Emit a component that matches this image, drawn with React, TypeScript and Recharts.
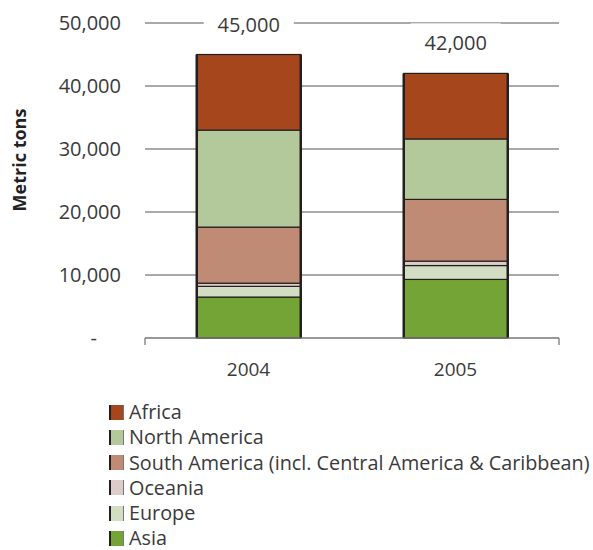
import React from 'react'
import { BarChart, Bar, XAxis, YAxis, CartesianGrid, Legend, LabelList } from 'recharts'

// tonnes by region
const years = ['2004', '2005']
const asia = [6500, 9300]
const europe = [1700, 2200]
const oceania = [500, 700]
const southAmerica = [8900, 9800]
const northAmerica = [15400, 9600]
const africa = [12000, 10400]
const totals = [45000, 42000]
const yTicks = [0, 10000, 20000, 30000, 40000, 50000]
const edgeTicks = [0, 1, 2]

const FONT = '"Open Sans", "DejaVu Sans", sans-serif'
const INK = '#3a3a3a'
const EDGE = '#231f20'

// bottom of the stack first
const series = [
  { key: 'asia', name: 'Asia', color: '#75a436', values: asia },
  { key: 'europe', name: 'Europe', color: '#d2ddc3', values: europe },
  { key: 'oceania', name: 'Oceania', color: '#ddcdc9', values: oceania },
  { key: 'southAmerica', name: 'South America (incl. Central America & Caribbean)', color: '#bf8b75', values: southAmerica },
  { key: 'northAmerica', name: 'North America', color: '#b3c99c', values: northAmerica },
  { key: 'africa', name: 'Africa', color: '#a5461d', values: africa },
]

const data = years.map((year, i) => {
  const row: Record<string, string | number> = { year, total: totals[i] }
  series.forEach((s) => { row[s.key] = s.values[i] })
  return row
})

const Segment = (props: any) => {
  const { x, y, width, height, fill } = props
  if (!height) return null
  return (
    <g>
      <rect x={x} y={y} width={width} height={height} fill={fill} stroke={EDGE} strokeWidth={1.2} />
      <line x1={x} y1={y} x2={x} y2={y + height} stroke={EDGE} strokeWidth={2.5} />
      <line x1={x + width} y1={y} x2={x + width} y2={y + height} stroke={EDGE} strokeWidth={2.5} />
    </g>
  )
}

const TotalLabel = (props: any) => {
  const { x, y, width, value } = props
  const cx = x + width / 2
  const cy = y - 30
  return (
    <g>
      <rect x={cx - 45} y={cy - 20} width={90} height={40} fill="#fff" />
      <text x={cx} y={cy} dy="0.35em" textAnchor="middle" fontFamily={FONT} fontSize={20} fill={INK}>
        {Number(value).toLocaleString('en-US')}
      </text>
    </g>
  )
}

const YTick = (props: any) => {
  const { x, y, payload } = props
  const v = payload.value as number
  return (
    <text x={v === 0 ? x - 24 : x} y={y} dy="0.35em" textAnchor="end" fontFamily={FONT} fontSize={20} fill={INK}>
      {v === 0 ? '-' : v.toLocaleString('en-US')}
    </text>
  )
}

const NoLabel = () => <g />

const LegendBox = () => (
  <div style={{ fontFamily: FONT, fontSize: 19.8, color: INK }}>
    {[...series].reverse().map((s) => (
      <div key={s.key} style={{ display: 'flex', alignItems: 'center', height: 20, marginBottom: 5.3, lineHeight: '20px' }}>
        <div
          style={{
            boxSizing: 'border-box', flex: '0 0 15px', width: 15, minWidth: 15, height: 15,
            backgroundColor: s.color, borderLeft: `2px solid ${EDGE}`, borderRight: '1px solid #777',
            marginRight: 5,
          }}
        />
        <span style={{ whiteSpace: 'nowrap' }}>{s.name}</span>
      </div>
    ))}
  </div>
)

export default function App() {
  return (
    <div style={{ position: 'absolute', left: 0, top: 0, background: '#fff' }}>
      <BarChart width={593} height={550} data={data} margin={{ top: 23, right: 34, bottom: 182, left: 0 }} barCategoryGap="25%">
        <CartesianGrid vertical={false} stroke="#555" xAxisId="cat" />
        <XAxis xAxisId="cat" dataKey="year" height={29} axisLine={false} tickLine={false} tickMargin={18}
          tick={{ fontFamily: FONT, fontSize: 19, fill: INK }} />
        <XAxis xAxisId="a_edges" type="number" domain={[0, 2]} ticks={edgeTicks} allowDataOverflow
          height={1} axisLine={{ stroke: '#888' }} tick={<NoLabel />} tickLine={{ stroke: '#555' }} tickSize={7} />
        <YAxis width={145} domain={[0, 50000]} ticks={yTicks} axisLine={false} tickLine={false} tickMargin={18}
          tick={<YTick />}
          label={{
            content: () => (
              <text x={20} y={160} transform="rotate(-90 20 160)" textAnchor="middle" dy="0.35em"
                fontFamily={FONT} fontSize={18} fontWeight="bold" fill="#222">
                Metric tons
              </text>
            ),
          }} />
        <Legend layout="vertical" align="center" verticalAlign="middle" content={<LegendBox />}
          wrapperStyle={{ top: 402, left: 109, width: 'auto' }} />
        {series.map((s, i) => (
          <Bar key={s.key} xAxisId="cat" dataKey={s.key} name={s.name} stackId="a" fill={s.color}
            shape={<Segment />} isAnimationActive={false}>
            {i === series.length - 1 && <LabelList dataKey="total" content={<TotalLabel />} />}
          </Bar>
        ))}
      </BarChart>
    </div>
  )
}
